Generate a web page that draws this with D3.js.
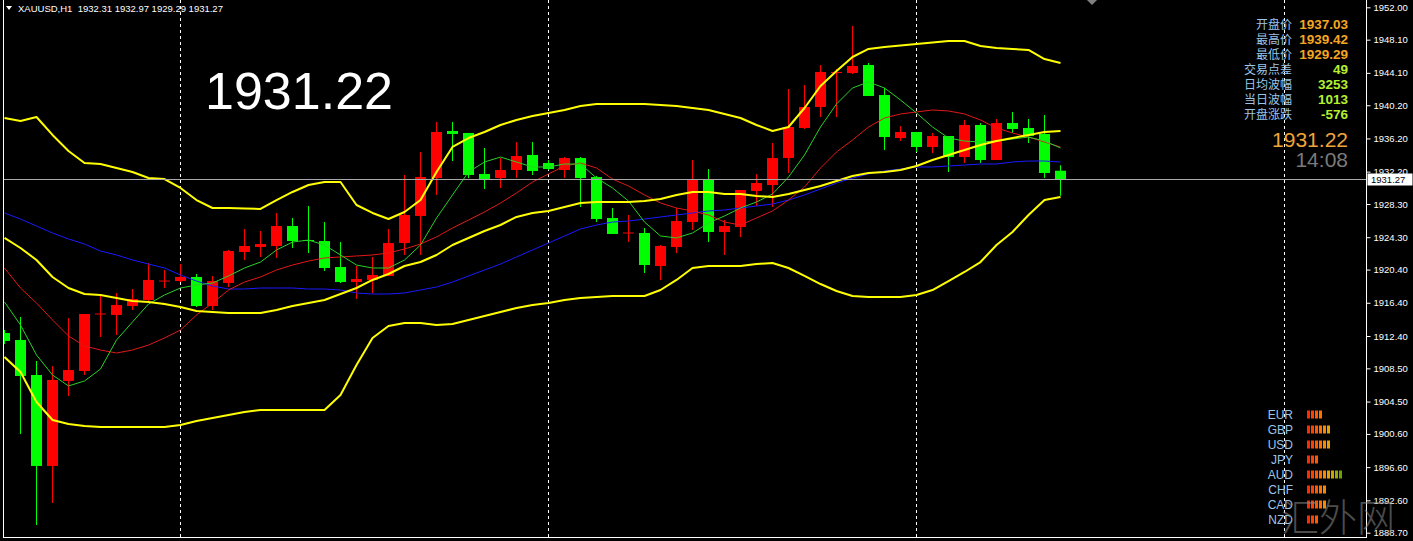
<!DOCTYPE html>
<html><head><meta charset="utf-8">
<script src="https://cdn.jsdelivr.net/npm/d3@7"></script>
<style>html,body{margin:0;padding:0;background:#000;overflow:hidden}</style>
</head><body>
<svg id="c" width="1413" height="541"></svg>
<script>
// ---------- DATA ----------
const symbolTitle = "XAUUSD,H1";
const headerOHLC = ["1932.31","1932.97","1929.29","1931.27"];
const bigPrice = "1931.22";
const bidPrice = 1931.27;
const clockText = "14:08";

const open = [1912.76,1911.92,1907.70,1896.74,1906.98,1908.18,1914.99,1914.93,1916.01,1916.74,
1918.96,1919.02,1919.51,1916.01,1918.78,1922.52,1923.12,1923.24,1925.65,1923.96,
1923.84,1920.71,1918.90,1919.15,1919.63,1923.60,1926.86,1931.43,1937.10,1936.86,
1931.92,1931.43,1932.40,1934.21,1933.24,1932.40,1933.84,1931.55,1926.61,1924.75,
1924.81,1920.83,1923.12,1926.13,1931.19,1924.93,1925.53,1929.87,1930.59,1933.84,
1937.46,1939.99,1944.08,1944.08,1945.05,1941.43,1936.25,1936.98,1935.17,1936.49,
1933.96,1937.82,1933.60,1938.06,1937.46,1936.74,1932.31];
const high = [1913.12,1914.69,1909.39,1908.78,1914.57,1915.05,1917.34,1917.58,1918.06,1921.19,
1920.35,1921.07,1919.87,1919.63,1922.76,1925.29,1925.05,1927.22,1926.61,1928.06,
1926.13,1923.72,1920.83,1921.92,1925.29,1931.80,1934.57,1938.18,1938.18,1936.86,
1935.05,1933.84,1935.77,1935.77,1933.60,1933.96,1933.96,1931.68,1927.82,1926.98,
1925.41,1923.36,1927.82,1933.60,1932.52,1926.37,1929.99,1931.92,1935.65,1942.16,
1942.64,1945.05,1944.57,1949.75,1945.29,1942.28,1937.70,1936.98,1936.86,1936.49,
1938.42,1938.06,1938.54,1939.39,1938.54,1939.02,1932.97];
const low = [1911.43,1900.59,1889.63,1892.28,1905.17,1907.70,1912.28,1912.52,1915.53,1916.61,
1918.18,1918.90,1915.89,1915.53,1918.30,1921.55,1921.92,1921.80,1923.00,1922.40,
1920.23,1918.78,1916.86,1917.58,1919.63,1922.16,1922.16,1929.39,1933.48,1931.43,
1930.11,1930.23,1931.43,1931.80,1932.40,1931.43,1927.94,1926.13,1924.69,1923.72,
1919.99,1919.15,1922.40,1925.17,1923.72,1922.16,1924.33,1928.06,1927.94,1932.04,
1937.34,1938.78,1938.78,1943.96,1941.31,1934.81,1935.89,1934.57,1934.45,1932.16,
1933.24,1933.24,1933.60,1936.86,1935.65,1931.43,1929.29];
const close = [1911.80,1907.58,1896.74,1907.10,1908.30,1915.05,1915.11,1916.13,1916.86,1919.15,
1919.08,1919.51,1916.01,1919.02,1922.64,1923.24,1923.48,1925.65,1923.84,1923.84,
1920.59,1918.90,1919.27,1919.75,1923.60,1926.98,1931.55,1936.98,1936.74,1931.80,
1931.31,1932.40,1934.08,1932.28,1932.52,1933.84,1931.43,1926.49,1924.69,1924.87,
1920.95,1923.24,1926.25,1931.19,1924.93,1925.65,1929.99,1930.83,1933.84,1937.58,
1939.99,1944.21,1944.21,1944.93,1941.31,1936.37,1936.98,1935.17,1936.49,1933.96,
1937.82,1933.60,1938.06,1937.34,1936.49,1932.04,1931.27];

const upperBand = [1938.66,1938.30,1938.78,1936.62,1934.69,1933.24,1933.12,1932.64,1932.16,1931.43,
1931.31,1930.23,1928.78,1927.82,1927.82,1927.76,1927.70,1928.78,1929.75,1930.59,
1930.95,1930.95,1928.18,1927.22,1926.49,1927.34,1928.78,1932.16,1935.17,1936.25,
1936.98,1937.82,1938.42,1938.90,1939.27,1939.63,1940.11,1940.35,1940.35,1940.35,
1940.35,1940.23,1940.11,1939.87,1939.63,1939.15,1938.66,1937.82,1937.10,1937.58,
1939.87,1942.52,1944.33,1946.01,1946.98,1947.22,1947.40,1947.58,1947.76,1947.94,
1947.94,1947.34,1947.10,1946.98,1946.86,1945.77,1945.29];
const middleBand = [1924.21,1923.00,1921.56,1919.51,1918.18,1917.46,1917.34,1916.98,1916.62,1916.50,
1916.25,1915.89,1915.41,1915.29,1915.17,1915.17,1915.17,1915.53,1916.01,1916.37,
1916.74,1917.46,1918.18,1919.15,1919.87,1920.83,1921.31,1922.16,1923.36,1924.21,
1925.05,1925.77,1926.74,1927.22,1927.46,1927.94,1928.42,1928.54,1928.54,1928.54,
1928.66,1928.90,1929.39,1929.75,1929.75,1929.51,1929.51,1929.27,1929.15,1929.51,
1929.99,1930.47,1931.07,1931.68,1932.04,1932.16,1932.40,1932.88,1933.60,1934.21,
1934.81,1935.41,1935.89,1936.25,1936.62,1936.98,1937.10];
const lowerBand = [1909.87,1908.06,1904.45,1902.28,1901.80,1901.56,1901.44,1901.44,1901.44,1901.44,
1901.44,1901.68,1902.16,1902.52,1902.88,1903.24,1903.48,1903.48,1903.48,1903.48,
1903.48,1905.29,1908.90,1912.16,1913.60,1913.96,1913.96,1913.72,1913.84,1914.33,
1914.81,1915.29,1915.77,1916.13,1916.37,1916.74,1916.98,1917.10,1917.22,1917.22,
1917.22,1917.94,1919.15,1920.59,1920.83,1920.83,1920.83,1921.07,1921.19,1920.59,
1919.63,1918.66,1917.82,1917.22,1917.10,1917.10,1917.10,1917.34,1917.94,1919.02,
1920.11,1921.31,1923.36,1924.93,1926.98,1928.78,1929.15];
const redMA = [1920.59,1918.18,1916.37,1914.33,1912.40,1911.19,1910.71,1910.35,1910.71,1911.31,
1912.16,1913.12,1914.93,1916.37,1917.94,1918.90,1919.51,1920.35,1920.95,1921.43,
1921.80,1921.92,1922.04,1922.16,1922.40,1922.88,1923.48,1924.33,1925.41,1926.37,
1927.34,1928.42,1929.63,1930.95,1931.92,1932.88,1933.24,1932.64,1931.31,1930.47,
1929.39,1928.42,1927.82,1927.46,1926.98,1926.13,1925.77,1926.62,1927.46,1928.78,
1930.35,1932.64,1934.57,1936.01,1937.58,1938.66,1939.15,1939.39,1939.63,1939.51,
1939.15,1938.42,1937.46,1936.86,1936.37,1935.77,1935.17];
const greenMA = [1916.50,1913.72,1910.11,1907.70,1906.38,1906.98,1908.42,1911.92,1914.09,1916.25,
1917.34,1918.18,1918.54,1918.78,1919.63,1920.59,1921.31,1922.76,1923.72,1923.96,
1923.36,1922.16,1920.95,1920.59,1920.59,1921.55,1923.36,1926.61,1929.39,1932.16,
1933.36,1933.96,1933.36,1932.76,1932.76,1933.12,1933.12,1931.43,1930.23,1928.66,
1926.13,1924.45,1924.21,1924.81,1926.01,1926.86,1927.82,1928.54,1929.51,1931.55,
1934.21,1937.58,1940.35,1942.28,1943.00,1942.28,1940.83,1939.27,1937.58,1936.25,
1935.89,1935.77,1935.89,1936.13,1936.37,1935.89,1935.05];
const blueMA = [1927.22,1926.49,1925.65,1924.81,1924.09,1923.48,1922.64,1922.16,1921.56,1921.07,
1920.59,1919.75,1919.02,1918.42,1918.06,1918.06,1918.18,1918.18,1918.18,1918.06,
1918.06,1917.94,1917.58,1917.46,1917.46,1917.58,1917.94,1918.30,1918.90,1919.63,
1920.35,1921.07,1921.92,1922.76,1923.60,1924.45,1925.29,1925.77,1926.13,1926.25,
1926.49,1926.74,1926.98,1927.22,1927.46,1927.58,1927.82,1928.06,1928.30,1928.78,
1929.39,1930.11,1930.83,1931.43,1931.92,1932.28,1932.52,1932.76,1932.76,1932.88,
1933.00,1933.12,1933.12,1933.36,1933.48,1933.48,1933.36];

const daySeparators = [11, 34, 57, 80];   // bar index of period separators
const tickValues = [1952.00,1948.10,1944.10,1940.20,1936.20,1932.20,1928.30,1924.30,1920.40,
1916.40,1912.40,1908.50,1904.50,1900.60,1896.60,1892.60,1888.70];

const infoLabels = ["开盘价","最高价","最低价","交易点差","日均波幅","当日波幅","开盘涨跌"];
const infoValues = ["1937.03","1939.42","1929.29","49","3253","1013","-576"];
const currencies = ["EUR","GBP","USD","JPY","AUD","CHF","CAD","NZD"];
const strength = [4,6,6,3,9,5,5,3];
const watermark = "汇外网";

// ---------- DRAW ----------
const W = 1413, H = 541;
const svg = d3.select("#c");
svg.append("rect").attr("width", W).attr("height", H).attr("fill", "#000");

const plotL = 4, plotR = 1366, plotB = 537;
const y = d3.scaleLinear().domain([1888.70, 1952.00]).range([532.7, 7.3]);
const x = d3.scaleLinear().domain([0, 1]).range([4.5, 20.5]);

svg.append("defs").append("clipPath").attr("id", "clip")
  .append("rect").attr("x", plotL).attr("y", 0).attr("width", plotR - plotL).attr("height", plotB);

const plot = svg.append("g").attr("clip-path", "url(#clip)");

// separators
plot.selectAll("line.sep").data(daySeparators).join("line").attr("class", "sep")
  .attr("x1", d => x(d)).attr("x2", d => x(d)).attr("y1", 0).attr("y2", plotB)
  .attr("stroke", "#ffffff").attr("stroke-width", 1).attr("stroke-dasharray", "3,3");

// candles
const bars = d3.range(open.length).map(i => ({i, o: open[i], h: high[i], l: low[i], c: close[i]}));
const colOf = d => d.c >= d.o ? "#ff0000" : "#00ff00";
const cg = plot.append("g");
cg.selectAll("line.wick").data(bars).join("line").attr("class", "wick")
  .attr("x1", d => x(d.i)).attr("x2", d => x(d.i))
  .attr("y1", d => y(d.h)).attr("y2", d => y(d.l))
  .attr("stroke", colOf).attr("stroke-width", 1);
cg.selectAll("rect.body").data(bars).join("rect").attr("class", "body")
  .attr("x", d => x(d.i) - 5.5).attr("width", 11)
  .attr("y", d => y(Math.max(d.o, d.c)))
  .attr("height", d => Math.max(1, y(Math.min(d.o, d.c)) - y(Math.max(d.o, d.c))))
  .attr("fill", colOf);

// indicator lines
const line = d3.line().x((d, i) => x(i)).y(d => y(d));
const series = [
  {v: blueMA, c: "#1a1aff", w: 1},
  {v: redMA, c: "#e01818", w: 1},
  {v: greenMA, c: "#28d028", w: 1},
  {v: upperBand, c: "#ffff00", w: 2},
  {v: middleBand, c: "#ffff00", w: 2},
  {v: lowerBand, c: "#ffff00", w: 2}
];
plot.selectAll("path.ind").data(series).join("path").attr("class", "ind")
  .attr("d", d => line(d.v)).attr("fill", "none")
  .attr("stroke", d => d.c).attr("stroke-width", d => d.w).attr("stroke-linejoin", "round");

// bid line
const by = Math.round(y(bidPrice)) + 0.5;
plot.append("line").attr("x1", plotL).attr("x2", plotR).attr("y1", by).attr("y2", by)
  .attr("stroke", "#a8a8a8").attr("stroke-width", 1);

// frame
svg.append("line").attr("x1", 3.5).attr("x2", 3.5).attr("y1", 0).attr("y2", plotB + 0.5).attr("stroke", "#fff");
svg.append("line").attr("x1", 3).attr("x2", plotR + 1).attr("y1", plotB + 0.5).attr("y2", plotB + 0.5).attr("stroke", "#fff");
svg.append("line").attr("x1", plotR + 0.5).attr("x2", plotR + 0.5).attr("y1", 0).attr("y2", plotB + 0.5).attr("stroke", "#fff");

// axis
const axis = svg.append("g").attr("transform", `translate(${plotR + 0.5},0)`)
  .call(d3.axisRight(y).tickValues(tickValues).tickSize(4).tickPadding(3).tickFormat(d3.format(".2f")));
axis.select(".domain").remove();
axis.selectAll(".tick line").attr("stroke", "#fff");
axis.selectAll(".tick text").attr("fill", "#fff").attr("font-family", "Liberation Sans, Arial, sans-serif").attr("font-size", "9.5px");

// bid price box
svg.append("rect").attr("x", plotR + 1.5).attr("y", by - 6).attr("width", W - plotR - 2).attr("height", 12).attr("fill", "#fff");
svg.append("text").attr("x", plotR + 5).attr("y", by + 3.5).text(d3.format(".2f")(bidPrice))
  .attr("fill", "#000").attr("font-family", "Liberation Sans, Arial, sans-serif").attr("font-size", "9.5px");

// header
svg.append("path").attr("d", "M6,6 L12,6 L9,10 Z").attr("fill", "#fff");
svg.append("text").attr("x", 18).attr("y", 12).attr("fill", "#fff")
  .attr("font-family", "Liberation Sans, Arial, sans-serif").attr("font-size", "9.5px")
  .attr("xml:space", "preserve")
  .text(symbolTitle + "  " + headerOHLC.join(" "));

// shift marker
svg.append("path").attr("d", "M1087,0 L1097,0 L1092,5 Z").attr("fill", "#808080");

// big price
svg.append("text").attr("x", 205).attr("y", 109).attr("fill", "#fff")
  .attr("font-family", "Liberation Sans, Arial, sans-serif").attr("font-size", "52px").text(bigPrice);

// info panel
const info = svg.append("g");
info.selectAll("text.lab").data(infoLabels).join("text").attr("class", "lab")
  .attr("x", 1292).attr("y", (d, i) => 28.5 + i * 15).attr("text-anchor", "end")
  .attr("fill", "#9cc4e6").attr("font-family", "Noto Sans CJK SC, sans-serif").attr("font-size", "12px").text(d => d);
info.selectAll("text.val").data(infoValues).join("text").attr("class", "val")
  .attr("x", 1348).attr("y", (d, i) => 28.5 + i * 15).attr("text-anchor", "end")
  .attr("fill", (d, i) => i < 3 ? "#f5a623" : "#b4f030").attr("font-weight", "bold")
  .attr("font-family", "Liberation Sans, Arial, sans-serif").attr("font-size", "13.5px").text(d => d);
svg.append("text").attr("x", 1348).attr("y", 146.7).attr("text-anchor", "end").attr("fill", "#f0a53a")
  .attr("font-family", "Liberation Sans, Arial, sans-serif").attr("font-size", "21px").text(bigPrice);
svg.append("text").attr("x", 1348).attr("y", 166.7).attr("text-anchor", "end").attr("fill", "#7a7a7a")
  .attr("font-family", "Liberation Sans, Arial, sans-serif").attr("font-size", "21px").text(clockText);

// currency strength
const barCols = ["#ff2a00","#ff4000","#ff5a00","#ff7000","#f58a00","#e6a000","#c8a800","#9aa800","#6ea000"];
const cs = svg.append("g");
cs.selectAll("text.cur").data(currencies).join("text").attr("class", "cur")
  .attr("x", 1293).attr("y", (d, i) => 418.5 + i * 15).attr("text-anchor", "end")
  .attr("fill", "#9cc4e6").attr("font-family", "Liberation Sans, Arial, sans-serif").attr("font-size", "12px").text(d => d);
currencies.forEach((c, r) => {
  cs.selectAll(null).data(d3.range(strength[r])).join("rect")
    .attr("x", k => 1307 + k * 4).attr("y", 410.5 + r * 15).attr("width", 3).attr("height", 8)
    .attr("fill", k => barCols[k]);
});

// watermark
svg.append("text").attr("x", 1281).attr("y", 531).attr("fill", "#8a8a8a").attr("opacity", 0.55)
  .attr("font-family", "Noto Sans CJK SC, sans-serif").attr("font-weight", 300).attr("font-size", "38px")
  .text(watermark);
</script>
</body></html>
